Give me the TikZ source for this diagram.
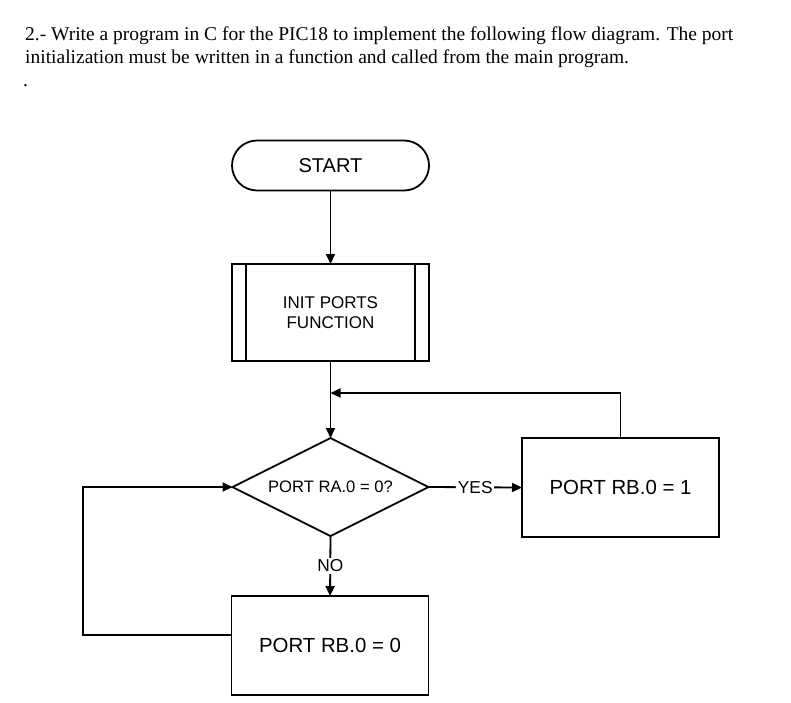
\documentclass[tikz,border=0pt]{standalone}
\usepackage{fontspec}
\setmainfont{Liberation Serif}
\newfontfamily\arialfont{Liberation Sans}
\usetikzlibrary{shapes.geometric,arrows.meta}

\begin{document}
\begin{tikzpicture}[x=1pt,y=-1pt,
    flowline/.style={line width=1.8pt},
    flowarrow/.style={flowline,-{Triangle[length=10pt,width=9pt]}},
    terminal/.style={draw,line width=1.8pt,rounded corners=25pt,minimum width=197pt,minimum height=50pt,outer sep=0pt,font=\arialfont\fontsize{20}{24}\selectfont},
    subproc/.style={draw,line width=1.8pt,minimum width=197pt,minimum height=97pt,outer sep=0pt,align=center,font=\arialfont\fontsize{17}{20}\selectfont},
    procbox/.style={draw,line width=1.8pt,minimum width=197pt,minimum height=99pt,outer sep=0pt,font=\arialfont\fontsize{20.4}{24}\selectfont},
    decision/.style={draw,diamond,aspect=2,line width=1.8pt,minimum width=196pt,minimum height=98pt,inner sep=0pt,outer sep=0pt,font=\arialfont\fontsize{16.6}{20}\selectfont},
    branch/.style={fill=white,inner sep=1.5pt,font=\arialfont\fontsize{17.3}{20}\selectfont}]
    \useasboundingbox (0,0) rectangle (791,702);
    % task text
    \node[anchor=base west,inner sep=0pt,font=\fontsize{19.5}{24}\selectfont] (task1) at (25,40.7) {2.- Write a program in C for the PIC18 to implement the following flow diagram. The port};
    \node[anchor=base west,inner sep=0pt,font=\fontsize{19.5}{24}\selectfont] (task2) at (25,63.5) {initialization must be written in a function and called from the main program.};
    \node[anchor=base west,inner sep=0pt,font=\fontsize{19.5}{24}\selectfont] (task3) at (23,86) {.};
    % boxes
    \node[terminal] (start) at (330.5,165.5) {START};
    \node[subproc] (init) at (330.5,312.5) {INIT PORTS\\FUNCTION};
    \draw[flowline] ([xshift=14pt]init.north west) -- ([xshift=14pt]init.south west);
    \draw[flowline] ([xshift=-14pt]init.north east) -- ([xshift=-14pt]init.south east);
    \node[decision] (test) at (330.5,487) {PORT RA.0 = 0?};
    \node[procbox] (setone) at (620.5,487.5) {PORT RB.0 = 1};
    \node[procbox] (setzero) at (330,645.5) {PORT RB.0 = 0};
    \coordinate (join) at (330.5,393);
    \coordinate (loop) at (83,635);
    % connectors
    \draw[flowarrow] (start) -- (init);
    \draw[flowarrow] (init) -- (test);
    \draw[flowarrow] (test.east) -- node[branch] {YES} (setone.west);
    \draw[flowarrow] (setone.north) |- (join);
    \draw[flowarrow] (test.south) -- node[branch] {NO} (setzero.north);
    \draw[flowarrow] (setzero.west |- loop) -- (loop) |- (test.west);
\end{tikzpicture}
\end{document}
